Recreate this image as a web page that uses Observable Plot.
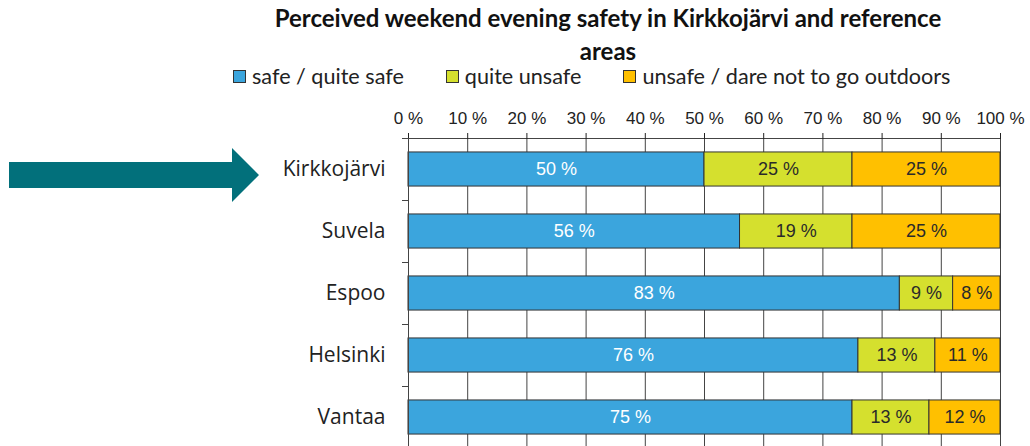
<!DOCTYPE html>
<html>
<head>
<meta charset="utf-8">
<script src="https://cdn.jsdelivr.net/npm/d3@7"></script>
<script src="https://cdn.jsdelivr.net/npm/@observablehq/plot@0.6"></script>
<style>
  html, body { margin: 0; padding: 0; background: #fff; width: 1030px; height: 446px; overflow: hidden; }
  #title { position: absolute; left: 0; top: 1px; width: 1216px; text-align: center;
           font-family: Lato, sans-serif; font-weight: bold; font-size: 24px; line-height: 33px; color: #111; }
  #legend { position: absolute; left: 233px; top: 65px; display: flex; font-family: Lato, sans-serif;
            font-size: 21.6px; line-height: 23px; color: #222; white-space: nowrap; }
  .item { display: flex; align-items: center; margin-right: 42px; }
  .sw { width: 11px; height: 11px; border: 1px solid #333; margin-right: 6px; }
  #chart { position: absolute; left: 0; top: 90px; }
  #arrow { position: absolute; left: 0; top: 0; z-index: 5; }
</style>
</head>
<body>
<div id="title">Perceived weekend evening safety in Kirkkojärvi and reference<br>areas</div>
<div id="legend"></div>
<div id="chart"></div>
<svg id="arrow" width="270" height="446"><polygon points="9,162 232,162 232,148 259,175 232,202 232,188 9,188" fill="#02707b"/></svg>
<script>
const areas = ["Kirkkojärvi", "Suvela", "Espoo", "Helsinki", "Vantaa"];
const categories = ["safe / quite safe", "quite unsafe", "unsafe / dare not to go outdoors"];
const safe = [50, 56, 83, 76, 75];
const quiteUnsafe = [25, 19, 9, 13, 13];
const unsafe = [25, 25, 8, 11, 12];
const colors = ["#3ba5dd", "#d5e02e", "#ffc000"];
const labelColors = ["#ffffff", "#2a2a2a", "#2a2a2a"];
const xTicks = [0, 10, 20, 30, 40, 50, 60, 70, 80, 90, 100];

const series = [safe, quiteUnsafe, unsafe];
const rows = [];
areas.forEach((a, i) => {
  let acc = 0;
  series.forEach((s, k) => {
    rows.push({area: a, i, cat: categories[k], k, value: s[i], x1: acc, x2: acc + s[i]});
    acc += s[i];
  });
});

// legend
const leg = document.getElementById("legend");
categories.forEach((c, k) => {
  const it = document.createElement("div"); it.className = "item";
  const sw = document.createElement("div"); sw.className = "sw"; sw.style.background = colors[k];
  const t = document.createElement("span"); t.textContent = c;
  it.appendChild(sw); it.appendChild(t); leg.appendChild(it);
});

const pad = 0.225;
const chart = Plot.plot({
  width: 1030,
  height: 358,
  marginLeft: 408,
  marginRight: 30,
  marginTop: 48,
  marginBottom: 0,
  x: {domain: [0, 100]},
  y: {domain: [0, areas.length], reverse: true},
  style: {background: "white", overflow: "visible"},
  marks: [
    Plot.ruleX(xTicks, {stroke: "#444", strokeWidth: 1}),
    Plot.ruleY([0], {stroke: "#444", strokeWidth: 1}),
    Plot.rectX(rows, {
      x1: "x1", x2: "x2",
      y1: d => d.i + pad, y2: d => d.i + 1 - pad,
      fill: d => colors[d.k], stroke: "#333", strokeWidth: 1
    }),
    Plot.text(rows, {
      x: d => (d.x1 + d.x2) / 2, y: d => d.i + 0.5,
      text: d => d.value + " %",
      fill: d => labelColors[d.k],
      fontFamily: "Liberation Sans, Arial, sans-serif", fontSize: 18
    }),
    Plot.axisX({anchor: "top", ticks: xTicks, tickSize: 6, tickPadding: 9, label: null,
      tickFormat: d => d + " %", color: "#222",
      fontFamily: "Liberation Sans, Arial, sans-serif", fontSize: 17}),
    Plot.axisY({ticks: d3.range(0, areas.length + 1), tickSize: 6, tickFormat: () => "", label: null, color: "#444"}),
    Plot.axisY({ticks: areas.map((d, i) => i + 0.5), tickSize: 0, tickPadding: 23, label: null,
      tickFormat: v => areas[Math.floor(v)], color: "#222",
      fontFamily: "Open Sans, sans-serif", fontSize: 21}),
    Plot.ruleX([0], {stroke: "#444", strokeWidth: 1})
  ]
});
document.getElementById("chart").appendChild(chart);
</script>
</body>
</html>
